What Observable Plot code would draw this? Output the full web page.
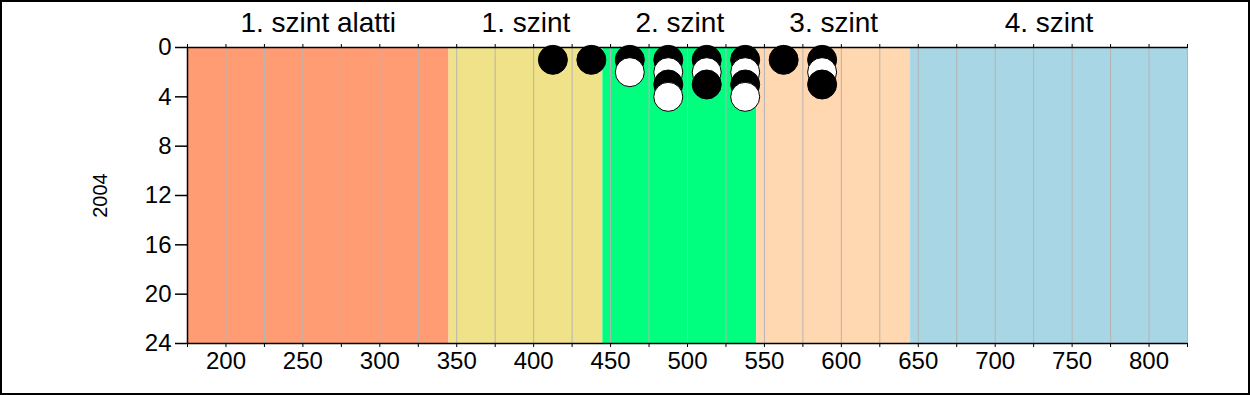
<!DOCTYPE html>
<html>
<head>
<meta charset="utf-8">
<script src="https://cdn.jsdelivr.net/npm/d3@7"></script>
<script src="https://cdn.jsdelivr.net/npm/@observablehq/plot@0.6"></script>
<style>
  html, body { margin: 0; padding: 0; background: white; }
  #wrap { position: relative; width: 1250px; height: 395px; overflow: hidden; }
  #border { position: absolute; left: 0; top: 0; width: 1250px; height: 395px; box-sizing: border-box; border: 2px solid black; pointer-events: none; }
  #chart g[aria-label$="tick label"] text { font-size: 24px !important; }
</style>
</head>
<body>
<div id="wrap"><div id="chart"></div><div id="border"></div></div>
<script>
// Score bands (levels)
const bandLabels = ["1. szint alatti", "1. szint", "2. szint", "3. szint", "4. szint"];
const bandStart = [175, 345, 445, 545, 645];
const bandEnd = [345, 445, 545, 645, 825];
const bandColors = ["#FF9C74", "#F0E289", "#00FF7F", "#FFD7B0", "#A8D6E4"];

// Dots: x = score bin centre, y = stack position, fill colour
const dotX = [412.5, 437.5, 462.5, 462.5, 487.5, 487.5, 487.5, 487.5, 512.5, 512.5, 512.5, 537.5, 537.5, 537.5, 537.5, 562.5, 587.5, 587.5, 587.5];
const dotY = [1, 1, 1, 2, 1, 2, 3, 4, 1, 2, 3, 1, 2, 3, 4, 1, 1, 2, 3];
const dotFill = ["black", "black", "black", "white", "black", "white", "black", "white", "black", "white", "black", "black", "white", "black", "white", "black", "black", "white", "black"];

// Axis ticks
const xTicks = d3.range(175, 826, 25);
const yTicks = [0, 4, 8, 12, 16, 20, 24];
const yLabel = "2004";

const bands = bandLabels.map((label, i) => ({label, x1: bandStart[i], x2: bandEnd[i], fill: bandColors[i]}));
const dots = dotX.map((x, i) => ({x, y: dotY[i], fill: dotFill[i]}));

const chart = Plot.plot({
  width: 1250,
  height: 395,
  marginLeft: 187,
  marginRight: 63,
  marginTop: 47,
  marginBottom: 52,
  style: {fontFamily: "'Liberation Sans', Arial, sans-serif", fontSize: "24px", background: "transparent", color: "black"},
  x: {domain: [175, 825]},
  y: {domain: [0, 24], reverse: true},
  marks: [
    Plot.rect(bands, {x1: "x1", x2: "x2", fill: "fill"}),
    Plot.ruleX(xTicks.filter(d => d > 175), {stroke: "#b4b4b4", strokeWidth: 1}),
    Plot.dot(dots, {x: "x", y: "y", r: 14.5, fill: "fill", stroke: "black", strokeWidth: 1}),
    Plot.ruleX([175], {stroke: "black", strokeWidth: 1.5}),
    Plot.ruleY([0], {stroke: "black", strokeWidth: 1.5}),
    Plot.ruleY([24], {stroke: "black", strokeWidth: 1.5}),
    Plot.axisY({ticks: yTicks, tickSize: 12, tickPadding: 4, label: null, fontSize: 24, stroke: "black", strokeWidth: 1.5}),
    Plot.axisX({anchor: "bottom", ticks: xTicks, tickSize: 4, tickPadding: 4, label: null, fontSize: 24, tickFormat: d => d % 50 === 0 ? String(d) : ""}),
    Plot.axisX({anchor: "top", ticks: xTicks, tickSize: 4, label: null, tickFormat: () => ""}),
    Plot.text(bands, {x: d => (d.x1 + d.x2) / 2, text: "label", frameAnchor: "top", lineAnchor: "middle", dy: -24, fontSize: 28, fill: "black"}),
    Plot.text([yLabel], {text: d => d, frameAnchor: "left", textAnchor: "middle", lineAnchor: "middle", dx: -87, rotate: -90, fontSize: 20, fill: "black"})
  ]
});
document.getElementById("chart").appendChild(chart);
</script>
</body>
</html>
